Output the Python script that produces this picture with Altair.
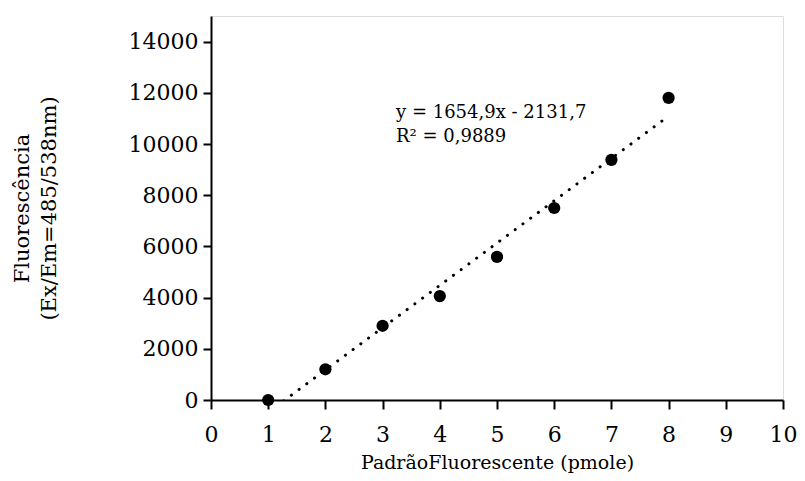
import altair as alt
import pandas as pd

pmole = [1, 2, 3, 4, 5, 6, 7, 8]
fluor = [0, 1200, 2900, 4060, 5590, 7500, 9380, 11800]
x_ticks = [0, 1, 2, 3, 4, 5, 6, 7, 8, 9, 10]
y_ticks = [0, 2000, 4000, 6000, 8000, 10000, 12000, 14000]
equation = ["y = 1654,9x - 2131,7", "R² = 0,9889"]

df = pd.DataFrame({"x": pmole, "y": fluor})
FONT = "DejaVu Serif"

xs = alt.Scale(domain=[0, 10], nice=False)
ys = alt.Scale(domain=[0, 15000], nice=False)

xax = alt.Axis(values=x_ticks, format="d", title="PadrãoFluorescente (pmole)", grid=False,
               domainColor="black", domainWidth=2, tickColor="black", tickWidth=2,
               tickSize=9, labelFontSize=22, labelFont=FONT, labelColor="black",
               labelPadding=15, titleFont=FONT, titleFontSize=19, titleFontWeight="normal",
               titleColor="black", titlePadding=8, labelFlush=False)
yax = alt.Axis(values=y_ticks, format="d", title=["Fluorescência", "(Ex/Em=485/538nm)"], grid=False,
               domainColor="black", domainWidth=2, tickColor="black", tickWidth=2,
               tickSize=8, labelFontSize=22, labelFont=FONT, labelColor="black",
               labelPadding=5, titleFont=FONT, titleFontSize=21, titleFontWeight="normal",
               titleColor="black", titlePadding=69, titleLineHeight=27, labelFlush=False)

base = alt.Chart(df)

trend = base.transform_regression("x", "y").mark_line(
    color="black", strokeWidth=3, strokeDash=[0.1, 9.5], strokeCap="round", clip=True
).encode(x=alt.X("x:Q", scale=xs, axis=xax), y=alt.Y("y:Q", scale=ys, axis=yax))

points = base.mark_point(filled=True, color="black", size=150, opacity=1).encode(
    x=alt.X("x:Q", scale=xs), y=alt.Y("y:Q", scale=ys)
)

label = alt.Chart(pd.DataFrame({"t": [equation]})).mark_text(
    align="left", baseline="middle", font=FONT, fontSize=18, color="black", lineHeight=24
).encode(x=alt.value(185), y=alt.value(97), text="t")

chart = (trend + points + label).properties(
    width=572, height=384,
    autosize=alt.AutoSizeParams(type="none"),
    padding={"left": 203, "top": 8, "right": 14, "bottom": 73},
).configure_view(stroke=None).configure(background="white")

chart.save("out.html", embed_options={"renderer": "svg", "actions": False})
